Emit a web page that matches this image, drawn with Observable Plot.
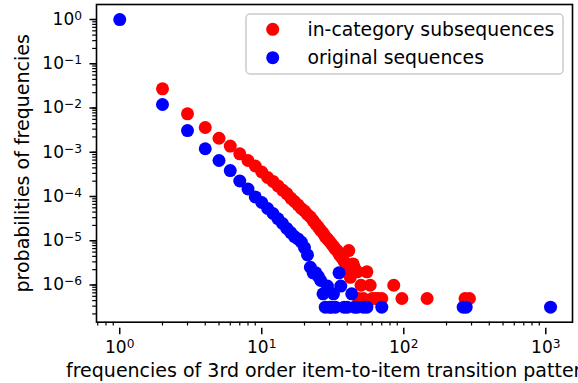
<!DOCTYPE html>
<html><head><meta charset="utf-8">
<script src="https://cdn.jsdelivr.net/npm/d3@7"></script>
<script src="https://cdn.jsdelivr.net/npm/@observablehq/plot@0.6"></script>
<style>body{margin:0;background:#fff;} svg{font-family:"DejaVu Sans";}</style>
</head><body><div id="chart"></div>
<script>
// in-category subsequences (red)
const inCategoryFreq = [2,3,4,5,6,7,8,9,10,11,12,13,14,15,16,17,18,19,20,21,22,23,24,25,26,27,28,29,30,
  31,32,33,34,35,36,37,38,39,40,41,42,44,45,47,48,50,52,55,58,60,63,66,70,85,97,146,270,290];
const inCategoryProb = [0.0245,0.00667,0.00327,0.00187,0.00124,0.000832,0.000587,0.000440,0.000322,0.000242,
  0.000197,0.000156,0.000126,0.000105,8.3e-5,6.95e-5,5.8e-5,4.83e-5,4.24e-5,3.53e-5,3.1e-5,2.58e-5,2.15e-5,
  1.84e-5,1.54e-5,1.35e-5,1.12e-5,9.9e-6,8.7e-6,
  7.6e-6,6.7e-6,5.8e-6,5.4e-6,4.5e-6,4.0e-6,3.6e-6,3.1e-6,2.7e-6,2.2e-6,5.4e-6,1.34e-6,2.7e-6,2.2e-6,1.79e-6,
  4.46e-7,8.9e-7,4.46e-7,1.79e-6,8.9e-7,4.46e-7,4.46e-7,4.46e-7,4.46e-7,8.9e-7,4.46e-7,4.46e-7,4.46e-7,4.46e-7];
// original sequences (blue)
const originalFreq = [1,2,3,4,5,6,7,8,9,10,11,12,13,14,15,16,17,18,19,20,21,22,23,24,25,26,27,28,29,30,31,32,33,
  35,36,38,40,43,45,47,52,55,70,262,275,1080];
const originalProb = [0.90,0.0108,0.00279,0.00108,0.000587,0.000348,0.000202,0.000133,8.8e-5,6.6e-5,4.83e-5,
  3.72e-5,2.83e-5,2.21e-5,1.71e-5,1.38e-5,1.12e-5,9.9e-6,8.4e-6,6.3e-6,4.3e-6,2.27e-6,1.7e-6,1.7e-6,1.42e-6,
  1.14e-6,5.7e-7,2.84e-7,8.5e-7,2.84e-7,2.84e-7,5.7e-7,2.84e-7,
  1.7e-6,8.5e-7,2.84e-7,2.84e-7,5.7e-7,2.84e-7,2.84e-7,2.84e-7,2.84e-7,2.84e-7,2.84e-7,2.84e-7,2.84e-7];

const seriesNames = ["in-category subsequences", "original sequences"];
const seriesColors = ["#ff0000", "#0000ff"];
const xTicks = [1, 10, 100, 1000];
const yTicks = [1, 1e-1, 1e-2, 1e-3, 1e-4, 1e-5, 1e-6];
const xLabel = "frequencies of 3rd order item-to-item transition patterns";
const yLabel = "probabilities of frequencies";

const red = inCategoryFreq.map((f, i) => ({f, p: inCategoryProb[i]}));
const blue = originalFreq.map((f, i) => ({f, p: originalProb[i]}));

const xDomain = [0.686, 1542];
const yDomain = [1.30e-7, 1.968];
const minor = (lo, hi) => {
  const out = [];
  for (let e = Math.floor(Math.log10(lo)); e <= Math.ceil(Math.log10(hi)); e++)
    for (let m = 2; m <= 9; m++) { const v = m * 10 ** e; if (v >= lo && v <= hi) out.push(v); }
  return out;
};
const fmt = d => `10^${Math.round(Math.log10(d))}`;

const chart = Plot.plot({
  width: 578, height: 383,
  marginLeft: 96, marginRight: 6, marginTop: 4, marginBottom: 61.3,
  style: {fontFamily: "DejaVu Sans", fontSize: "17px", background: "white", overflow: "visible"},
  x: {type: "log", domain: xDomain},
  y: {type: "log", domain: yDomain},
  marks: [
    Plot.axisX(minor(...xDomain), {tickSize: 3.8, tickFormat: null, label: null, strokeWidth: 1.2}),
    Plot.axisY(minor(...yDomain), {tickSize: 3.8, tickFormat: null, label: null, strokeWidth: 1.2}),
    Plot.axisX(xTicks, {tickSize: 6.5, tickPadding: 6, tickFormat: fmt, label: null, strokeWidth: 1.5, fontSize: 17, dy: 6}),
    Plot.axisY(yTicks, {tickSize: 6.5, tickPadding: 8, tickFormat: fmt, label: null, strokeWidth: 1.5, fontSize: 17, dy: 2}),
    Plot.dot(red, {x: "f", y: "p", r: 6.5, fill: seriesColors[0]}),
    Plot.dot(blue, {x: "f", y: "p", r: 6.5, fill: seriesColors[1]}),
    Plot.frame({stroke: "black", strokeWidth: 1.6}),
    Plot.text([xLabel], {text: d => d, frameAnchor: "bottom", textAnchor: "middle", lineAnchor: "middle", dy: 49, fontSize: 19, fill: "black"}),
    Plot.text([yLabel], {text: d => d, frameAnchor: "left", textAnchor: "middle", lineAnchor: "middle", dx: -74, rotate: -90, fontSize: 19, fill: "black"})
  ]
});
document.getElementById("chart").appendChild(chart);

// mathtext-like superscripts on tick labels
d3.select(chart).selectAll("text").each(function() {
  const t = this.textContent;
  const m = /^10\^(-?\d+)$/.exec(t);
  if (!m) return;
  const el = d3.select(this);
  el.text("10");
  el.append("tspan").attr("dy", "-0.42em").attr("font-size", "0.72em").text(m[1].replace("-", "\u2212"));
});

// legend
const svg = d3.select(chart);
const lg = svg.append("g").attr("text-anchor", "start");
lg.append("rect").attr("x", 246).attr("y", 14).attr("width", 317).attr("height", 60).attr("rx", 4)
  .attr("fill", "white").attr("fill-opacity", 0.8).attr("stroke", "#cccccc").attr("stroke-width", 1.5);
seriesNames.forEach((name, i) => {
  const cy = 29.3 + i * 28.4;
  lg.append("circle").attr("cx", 272.7).attr("cy", cy).attr("r", 6.5).attr("fill", seriesColors[i]);
  lg.append("text").attr("x", 307.5).attr("y", cy).attr("dy", "0.35em").attr("font-size", 18.8)
    .attr("text-anchor", "start").attr("fill", "black").text(name);
});
</script>
</body></html>
